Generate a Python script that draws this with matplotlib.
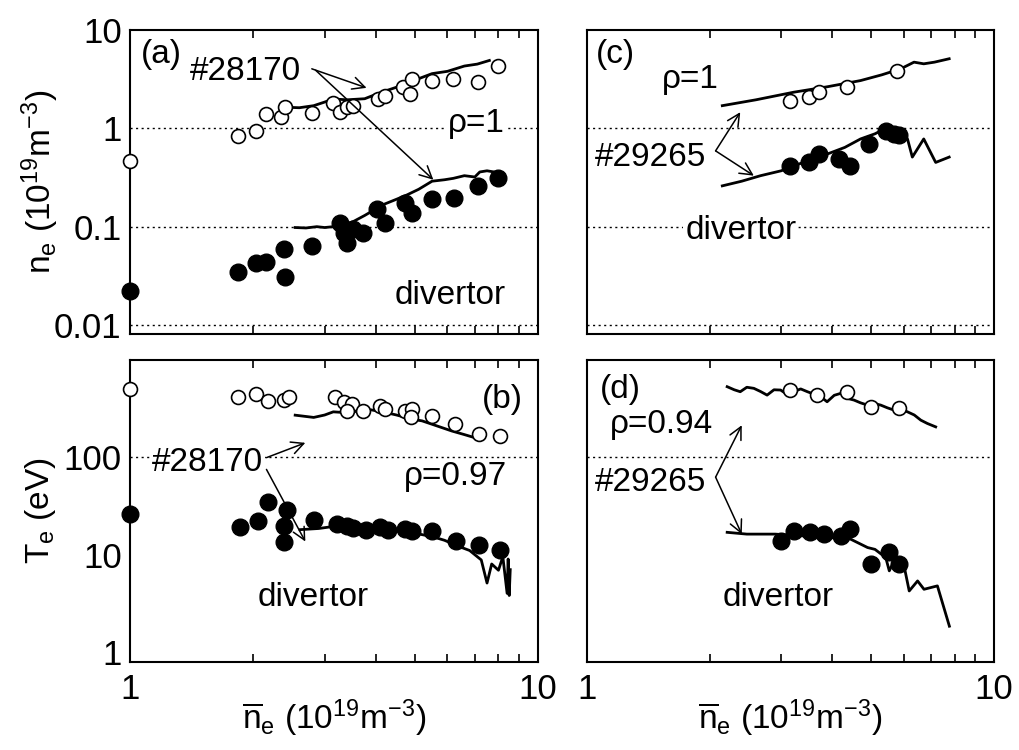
import numpy as np
import matplotlib
matplotlib.use("Agg")
import matplotlib.pyplot as plt

plt.rcParams['font.family'] = ['Liberation Sans', 'DejaVu Sans']
plt.rcParams['mathtext.fontset'] = 'custom'
plt.rcParams['mathtext.rm'] = 'Liberation Sans'
plt.rcParams['mathtext.it'] = 'Liberation Sans'
plt.rcParams['mathtext.bf'] = 'Liberation Sans'

# ---------------- data ----------------
# panel (a): density, shot 28170
a_open_x = [1.0, 1.84, 2.04, 2.15, 2.35, 2.40, 2.79, 3.15, 3.27, 3.40, 3.53, 4.06, 4.22, 4.68, 4.86, 4.90, 5.49, 6.20, 7.14, 8.0]
a_open_y = [0.47, 0.84, 0.94, 1.40, 1.29, 1.64, 1.42, 1.80, 1.45, 1.64, 1.69, 1.99, 2.15, 2.62, 2.24, 3.18, 3.06, 3.18, 2.93, 4.35]
a_fill_x = [1.0, 1.84, 2.04, 2.15, 2.38, 2.40, 2.79, 3.27, 3.34, 3.40, 3.53, 3.72, 4.02, 4.22, 4.72, 4.90, 5.49, 6.22, 7.14, 8.0]
a_fill_y = [0.022, 0.035, 0.043, 0.044, 0.059, 0.031, 0.064, 0.11, 0.087, 0.069, 0.094, 0.087, 0.15, 0.11, 0.176, 0.139, 0.19, 0.197, 0.26, 0.31]
a_line1_x = [2.40, 2.60, 2.82, 3.0, 3.15, 3.40, 3.76, 4.1, 4.6, 5.0, 5.5, 6.0, 6.6, 7.1, 7.6]
a_line1_y = [1.64, 1.62, 1.70, 1.85, 1.99, 1.95, 2.0, 2.3, 2.7, 3.1, 3.6, 3.8, 4.3, 4.5, 4.9]
a_line2_x = [2.54, 2.70, 2.87, 3.0, 3.15, 3.35, 3.53, 3.76, 4.18, 4.5, 4.77, 5.1, 5.5, 5.9, 6.2, 6.6, 7.0, 7.2, 7.5, 7.8]
a_line2_y = [0.098, 0.097, 0.10, 0.098, 0.10, 0.105, 0.113, 0.13, 0.168, 0.19, 0.21, 0.24, 0.29, 0.30, 0.31, 0.33, 0.32, 0.36, 0.37, 0.36]

# panel (b): temperature, shot 28170
b_open_x = [1.0, 1.84, 2.04, 2.18, 2.38, 2.45, 3.18, 3.34, 3.50, 3.40, 3.72, 4.10, 4.22, 4.72, 4.90, 4.88, 5.49, 6.26, 7.18, 8.06]
b_open_y = [499, 416, 443, 378, 384, 409, 409, 364, 349, 298, 298, 336, 310, 298, 310, 255, 265, 217, 171, 165]
b_fill_x = [1.0, 1.86, 2.06, 2.18, 2.42, 2.38, 2.38, 2.82, 3.22, 3.40, 3.53, 3.78, 4.10, 4.30, 4.72, 4.90, 5.50, 6.30, 7.18, 8.06]
b_fill_y = [26.1, 19.0, 21.9, 34.4, 28.4, 19.4, 13.6, 22.8, 20.6, 19.4, 18.7, 18.0, 19.2, 18.0, 18.3, 17.6, 17.3, 13.9, 12.6, 11.2]
b_line1_x = [2.54, 2.82, 3.0, 3.15, 3.4, 3.66, 3.9, 4.22, 4.5, 4.9, 5.2, 5.5, 6.15, 6.6, 7.0, 7.3]
b_line1_y = [269, 255, 270, 291, 285, 298, 305, 287, 270, 245, 235, 217, 185, 170, 158, 156]
b_line2_x = [2.61, 2.9, 3.15, 3.4, 3.76, 4.1, 4.6, 5.0, 5.5, 5.9, 6.4, 6.8, 7.26, 7.5, 7.7, 8.0, 8.2, 8.4, 8.45, 8.5, 8.55]
b_line2_y = [18.0, 18.5, 19.4, 19.0, 18.7, 18.0, 17.3, 16.5, 15.3, 14.0, 12.1, 11.0, 8.8, 5.1, 8.0, 6.9, 9.5, 4.0, 9.0, 3.8, 7.0]

# panel (c): density, shot 29265
c_open_x = [3.16, 3.51, 3.71, 4.36, 5.79]
c_open_y = [1.91, 2.07, 2.33, 2.62, 3.87]
c_fill_x = [3.16, 3.51, 3.71, 4.16, 4.44, 4.93, 5.42, 5.68, 5.84]
c_fill_y = [0.415, 0.45, 0.547, 0.486, 0.415, 0.69, 0.945, 0.87, 0.86]
c_line1_x = [2.15, 2.6, 3.22, 3.9, 4.70, 5.3, 5.90, 6.36, 6.72, 7.14, 7.76]
c_line1_y = [1.70, 1.95, 2.33, 2.65, 3.06, 3.5, 4.03, 4.71, 4.53, 4.71, 5.10]
c_line2_x = [2.15, 2.4, 2.67, 3.0, 3.22, 3.5, 3.89, 4.3, 4.70, 5.1, 5.47, 5.90, 6.13, 6.30, 6.72, 7.19, 7.76]
c_line2_y = [0.26, 0.29, 0.33, 0.37, 0.415, 0.47, 0.547, 0.64, 0.78, 0.88, 1.02, 0.91, 0.78, 0.51, 0.78, 0.45, 0.51]

# panel (d): temperature, shot 29265
d_open_x = [3.16, 3.68, 4.36, 4.98, 5.84]
d_open_y = [487, 432, 468, 327, 315]
d_fill_x = [2.99, 3.22, 3.54, 3.82, 4.20, 4.44, 4.98, 5.53, 5.84]
d_fill_y = [13.8, 17.5, 16.9, 16.2, 15.6, 18.3, 7.96, 10.5, 7.96]
d_line1_x = [2.21, 2.30, 2.38, 2.47, 2.57, 2.67, 2.77, 2.88, 2.99, 3.10, 3.22, 3.35, 3.48, 3.62, 3.75, 3.89, 4.05, 4.20, 4.36, 4.53, 4.70, 4.89, 5.07, 5.27, 5.47, 5.68, 5.90, 6.13, 6.37, 6.61, 6.86, 7.19]
d_line1_y = [527, 490, 468, 520, 507, 470, 432, 490, 487, 440, 468, 500, 468, 440, 416, 369, 430, 450, 400, 384, 360, 341, 355, 341, 320, 303, 310, 291, 270, 239, 221, 204]
d_line2_x = [2.21, 2.47, 2.9, 3.35, 3.89, 4.44, 4.89, 5.1, 5.42, 5.53, 5.68, 6.0, 6.19, 6.49, 6.73, 7.26, 7.77]
d_line2_y = [16.9, 16.2, 16.2, 15.6, 15.0, 14.4, 11.8, 11.3, 9.31, 6.8, 8.6, 7.96, 4.23, 5.36, 4.4, 4.77, 1.84]

ne_ticks = [0.01, 0.1, 1, 10]
ne_ticklabels = ['0.01', '0.1', '1', '10']
te_ticks = [1, 10, 100]
te_ticklabels = ['1', '10', '100']
x_ticks = [1, 10]
x_ticklabels = ['1', '10']

FS = 24      # annotation text
TFS = 25     # tick labels
fig = plt.figure(figsize=(10.19, 7.5), dpi=100)
W, H = 1019, 750

def make_ax(l, r, t, b):
    return fig.add_axes([l / W, 1 - b / H, (r - l) / W, (b - t) / H])

axa = make_ax(130, 538, 30, 334)
axb = make_ax(130, 538, 360, 662)
axc = make_ax(587, 994, 30, 334)
axd = make_ax(587, 994, 360, 662)

def style(ax, ylim, grid, yt, ytl, xlab=False):
    ax.set_xscale('log')
    ax.set_yscale('log')
    for s in ax.spines.values():
        s.set_linewidth(1.5)
    ax.set_yticks(yt)
    ax.set_yticklabels(ytl)
    ax.set_xticks(x_ticks)
    ax.set_xticklabels(x_ticklabels if xlab else [])
    ax.xaxis.set_minor_locator(matplotlib.ticker.LogLocator(base=10, subs=np.arange(2, 10)))
    ax.xaxis.set_minor_formatter(matplotlib.ticker.NullFormatter())
    ax.yaxis.set_minor_locator(matplotlib.ticker.NullLocator())
    ax.tick_params(which='both', direction='in', top=True, right=False, labelsize=TFS)
    ax.tick_params(which='minor', length=6, width=1.2)
    ax.tick_params(axis='y', which='major', length=0, pad=6)
    ax.tick_params(axis='x', which='major', length=0, pad=8)
    ax.set_xlim(1, 10)
    ax.set_ylim(*ylim)
    for g in grid:
        ax.axhline(g, color='black', lw=1.0, ls=(0, (1.5, 2.5)), zorder=0)

style(axa, (0.0081, 10), [0.01, 0.1, 1], ne_ticks, ne_ticklabels)
style(axb, (0.79, 990), [100], te_ticks, te_ticklabels, xlab=True)
style(axc, (0.0081, 10), [0.01, 0.1, 1], ne_ticks, [])
style(axd, (0.79, 990), [100], te_ticks, [], xlab=True)

LW = 2.0
OPEN = dict(ls='none', marker='o', ms=10, mfc='white', mec='black', mew=1.2, zorder=4, clip_on=False)
FILL = dict(ls='none', marker='o', ms=12, mfc='black', mec='black', mew=1.0, zorder=4, clip_on=False)

for ax, lx1, ly1, lx2, ly2, ox, oy, fx, fyy in [
        (axa, a_line1_x, a_line1_y, a_line2_x, a_line2_y, a_open_x, a_open_y, a_fill_x, a_fill_y),
        (axb, b_line1_x, b_line1_y, b_line2_x, b_line2_y, b_open_x, b_open_y, b_fill_x, b_fill_y),
        (axc, c_line1_x, c_line1_y, c_line2_x, c_line2_y, c_open_x, c_open_y, c_fill_x, c_fill_y),
        (axd, d_line1_x, d_line1_y, d_line2_x, d_line2_y, d_open_x, d_open_y, d_fill_x, d_fill_y)]:
    ax.plot(lx1, ly1, color='black', lw=LW, zorder=3)
    ax.plot(lx2, ly2, color='black', lw=LW, zorder=3)
    ax.plot(ox, oy, **OPEN)
    ax.plot(fx, fyy, **FILL)

def txt(ax, fx, fy, s, bg=False, ha='center'):
    kw = {}
    if bg:
        kw['bbox'] = dict(facecolor='white', edgecolor='none', pad=1.5)
    ax.text(fx, fy, s, transform=ax.transAxes, ha=ha, va='center', fontsize=FS, zorder=5, **kw)

ARW = dict(arrowstyle='->', lw=1.1, color='black', mutation_scale=22, shrinkA=0, shrinkB=0)

# panel a
txt(axa, 0.076, 0.918, '(a)')
txt(axa, 0.282, 0.862, '#28170')
txt(axa, 0.848, 0.694, 'ρ=1', bg=True)
txt(axa, 0.784, 0.128, 'divertor')
axa.annotate('', xy=(3.80, 2.58), xytext=(2.79, 4.03), arrowprops=ARW, zorder=6)
axa.annotate('', xy=(5.54, 0.30), xytext=(2.85, 3.9), arrowprops=ARW, zorder=6)

# panel b
txt(axb, 0.912, 0.868, '(b)')
txt(axb, 0.191, 0.662, '#28170', bg=True)
txt(axb, 0.797, 0.613, 'ρ=0.97', bg=True)
txt(axb, 0.449, 0.215, 'divertor')
axb.annotate('', xy=(2.69, 140), xytext=(2.16, 98.6), arrowprops=ARW, zorder=6)
axb.annotate('', xy=(2.69, 13.6), xytext=(2.16, 74.7), arrowprops=ARW, zorder=6)

# panel c
txt(axc, 0.071, 0.918, '(c)')
txt(axc, 0.253, 0.836, 'ρ=1')
txt(axc, 0.155, 0.582, '#29265')
txt(axc, 0.378, 0.342, 'divertor', bg=True)
axc.annotate('', xy=(2.38, 1.46), xytext=(2.07, 0.59), arrowprops=ARW, zorder=6)
axc.annotate('', xy=(2.57, 0.33), xytext=(2.07, 0.59), arrowprops=ARW, zorder=6)

# panel d
txt(axd, 0.081, 0.901, '(d)')
txt(axd, 0.182, 0.785, 'ρ=0.94')
txt(axd, 0.157, 0.593, '#29265')
txt(axd, 0.469, 0.212, 'divertor')
axd.annotate('', xy=(2.40, 212), xytext=(2.07, 62.2), arrowprops=ARW, zorder=6)
axd.annotate('', xy=(2.40, 16.2), xytext=(2.07, 62.2), arrowprops=ARW, zorder=6)

# axis labels
fig.text(40 / W, 1 - 182 / H, r'$\mathregular{n_e\ (10^{19}m^{-3})}$', rotation=90, ha='center', va='center', fontsize=FS)
fig.text(40 / W, 1 - 511 / H, r'$\mathregular{T_e\ (eV)}$', rotation=90, ha='center', va='center', fontsize=FS)
xl = r'$\mathregular{\overline{n}_e\ (10^{19}m^{-3})}$'
fig.text(334 / W, 1 - 718 / H, xl, ha='center', va='center', fontsize=FS)
fig.text(790 / W, 1 - 718 / H, xl, ha='center', va='center', fontsize=FS)

fig.savefig('out.png', dpi=100)
